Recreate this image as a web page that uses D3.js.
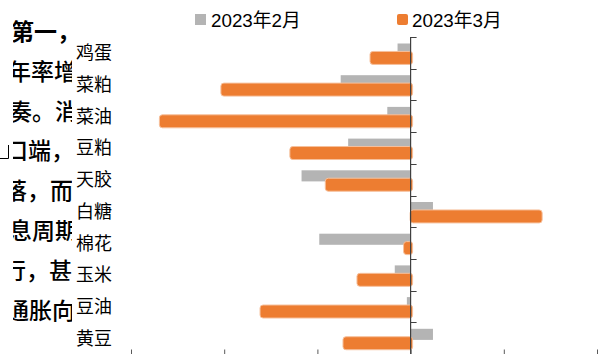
<!DOCTYPE html>
<html><head><meta charset="utf-8">
<script src="https://cdn.jsdelivr.net/npm/d3@7"></script>
<style>body{margin:0;background:#fff}svg{display:block}</style>
</head><body>
<svg id="c" width="600" height="354"></svg>
<script>
const categories = ["鸡蛋","菜粕","菜油","豆粕","天胶","白糖","棉花","玉米","豆油","黄豆"];
const febValues = [-1.4,-7.5,-2.5,-6.7,-11.7,2.4,-9.8,-1.7,-0.4,2.4];
const marValues = [-4.3,-20.3,-26.9,-12.9,-9.1,13.9,-0.7,-5.7,-16.1,-7.2];
const seriesNames = ["2023年2月","2023年3月"];
const xTicks = [-30,-20,-10,0,10,20];
const sideText = ["第一，","年率增","奏。消","口端，","落，而","息周期","行，甚","通胀向"];
const sideOffsets = [11,8,9,5,4,9,3,6];

const svg = d3.select("#c");
const W = 600, H = 354;
const gray = "#b4b4b4", orange = "#ed7d31";

// background document text fragment on the left (clipped)
svg.append("clipPath").attr("id","clipL").append("rect").attr("x",13).attr("y",0).attr("width",59).attr("height",H);
const tg = svg.append("g").attr("clip-path","url(#clipL)");
tg.selectAll("text").data(sideText).join("text")
  .attr("x",(d,i)=>sideOffsets[i]).attr("y",(d,i)=>40+i*39.8)
  .attr("font-family","'Noto Sans CJK SC'").attr("font-weight",i=>i===0?700:400).attr("font-size",23)
  .attr("fill","#000").text(d=>d);
tg.selectAll("text").attr("font-weight",(d,i)=>i===0?700:500);
svg.append("path").attr("d","M8.5,145V158.5H0").attr("fill","none").attr("stroke","#000").attr("stroke-width",1);

const x = d3.scaleLinear().domain([-30,20]).range([131,597]);
const y = d3.scaleBand().domain(categories).range([37,354]).padding(0);
const bw = y.bandwidth();

// bars
const g = svg.append("g");
g.selectAll("rect.feb").data(categories).join("rect").attr("class","feb")
  .attr("x",(d,i)=>Math.min(x(febValues[i]),x(0)))
  .attr("width",(d,i)=>Math.abs(x(febValues[i])-x(0)))
  .attr("y",d=>y(d)+bw*0.205).attr("height",bw*0.35)
  .attr("fill",gray);
g.selectAll("rect.mar").data(categories).join("rect").attr("class","mar")
  .attr("x",(d,i)=>Math.min(x(marValues[i]),x(0))-0.5)
  .attr("width",(d,i)=>Math.abs(x(marValues[i])-x(0))+2.5)
  .attr("y",d=>y(d)+bw*0.455).attr("height",bw*0.41)
  .attr("rx",3).attr("fill",orange).attr("stroke","#f6c09c").attr("stroke-width",1);

// vertical axis
svg.append("line").attr("x1",x(0)).attr("x2",x(0)).attr("y1",37).attr("y2",H)
  .attr("stroke","#404040").attr("stroke-width",1.2);
svg.selectAll("line.yt").data(d3.range(categories.length+1)).join("line").attr("class","yt")
  .attr("x1",x(0)).attr("x2",x(0)+6)
  .attr("y1",i=>Math.round(37+i*bw)+0.5).attr("y2",i=>Math.round(37+i*bw)+0.5)
  .attr("stroke","#404040").attr("stroke-width",1);

// bottom axis ticks
const xa = svg.append("g").attr("transform",`translate(0,${H+0.5})`)
  .call(d3.axisBottom(x).tickValues(xTicks).tickSizeInner(-5).tickSizeOuter(0).tickFormat(""));
xa.select(".domain").attr("stroke","#595959");
xa.selectAll(".tick line").attr("stroke","#595959");

// category labels
svg.selectAll("text.cat").data(categories).join("text").attr("class","cat")
  .attr("x",76).attr("y",d=>y(d)+bw/2+6.5)
  .attr("font-family","'Noto Sans CJK SC'").attr("font-size",18).attr("fill","#000")
  .text(d=>d);

// legend
const lg = svg.append("g");
const lx = [195,397], tx = [211,412];
[gray,orange].forEach((c,i)=>{
  lg.append("rect").attr("x",lx[i]).attr("y",14).attr("width",11).attr("height",11)
    .attr("rx",i?2:0).attr("fill",c);
  lg.append("text").attr("x",tx[i]).attr("y",26.5)
    .attr("font-family","'Liberation Sans','Noto Sans CJK SC'").attr("font-size",18.8).attr("fill","#000")
    .text(seriesNames[i]);
});
</script>
</body></html>
